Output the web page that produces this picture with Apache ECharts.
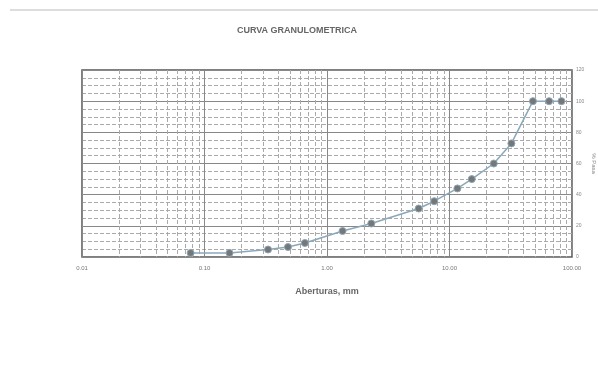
<!DOCTYPE html>
<html>
<head>
<meta charset="utf-8">
<script src="https://cdn.jsdelivr.net/npm/echarts@6/dist/echarts.min.js"></script>
<style>html,body{margin:0;padding:0;background:#fff}#c{width:598px;height:367px}</style>
</head>
<body>
<div id="c"></div>
<script>
const aberturas = [0.077, 0.16, 0.33, 0.48, 0.66, 1.34, 2.3, 5.6, 7.5, 11.6, 15.2, 23, 32, 48, 65, 82];
const pasa =      [2.6,   2.6,  4.8,  6.4,  9.0,  16.7, 21.5, 31.1, 35.8, 44, 50, 60, 72.9, 100, 100, 100];
const xLabels = {0.01: '0.01', 0.1: '0.10', 1: '1.00', 10: '10.00', 100: '100.00'};
const yTicks = [0, 20, 40, 60, 80, 100, 120];

const data = aberturas.map((a, i) => [a, pasa[i]]);
const chart = echarts.init(document.getElementById('c'), null, {renderer: 'canvas'});
chart.setOption({
  backgroundColor: '#ffffff',
  animation: false,
  title: {
    text: 'CURVA GRANULOMETRICA',
    left: 292, top: 21, textAlign: 'center',
    textStyle: {fontFamily: 'Liberation Sans', fontSize: 9, fontWeight: 'bold', color: '#666'}
  },
  graphic: [
    {type: 'line', shape: {x1: 10, y1: 10, x2: 598, y2: 10}, style: {stroke: '#bbb', lineWidth: 1}}
  ],
  grid: {left: 82, right: 26, top: 70, bottom: 110, show: true, borderColor: '#555', borderWidth: 1.5,
         containLabel: false, outerBoundsMode: 'none'},
  xAxis: {
    type: 'log', logBase: 10, min: 0.01, max: 100,
    name: 'Aberturas, mm', nameLocation: 'middle', nameGap: 30,
    nameTextStyle: {fontFamily: 'Liberation Sans', fontSize: 9, fontWeight: 'bold', color: '#666'},
    axisLine: {show: false}, axisTick: {show: false},
    axisLabel: {fontSize: 6, color: '#777', margin: 8, formatter: v => xLabels[+v.toPrecision(3)] || ''},
    splitLine: {show: true, lineStyle: {color: '#888', width: 1}},
    minorTick: {show: false, splitNumber: 9},
    minorSplitLine: {show: true, lineStyle: {color: '#aaa', width: 1, type: 'dashed'}}
  },
  yAxis: {
    type: 'value', position: 'right', min: 0, max: 120, interval: 20,
    name: '% Pasa', nameLocation: 'middle', nameGap: 19, nameRotate: -90, nameMoveOverlap: false,
    nameTextStyle: {fontFamily: 'Liberation Sans', fontSize: 6, color: '#888'},
    axisLine: {show: false}, axisTick: {show: false},
    axisLabel: {fontSize: 5, color: '#888', margin: 4},
    splitLine: {show: true, lineStyle: {color: '#888', width: 1}},
    minorTick: {show: false, splitNumber: 4},
    minorSplitLine: {show: true, lineStyle: {color: '#aaa', width: 1, type: 'dashed'}}
  },
  series: [{
    type: 'line', data: data,
    symbol: 'circle', symbolSize: 7,
    lineStyle: {color: '#8aa8ba', width: 1.5},
    itemStyle: {color: '#777', borderColor: '#8aa8ba', borderWidth: 1}
  }]
});
</script>
</body>
</html>
